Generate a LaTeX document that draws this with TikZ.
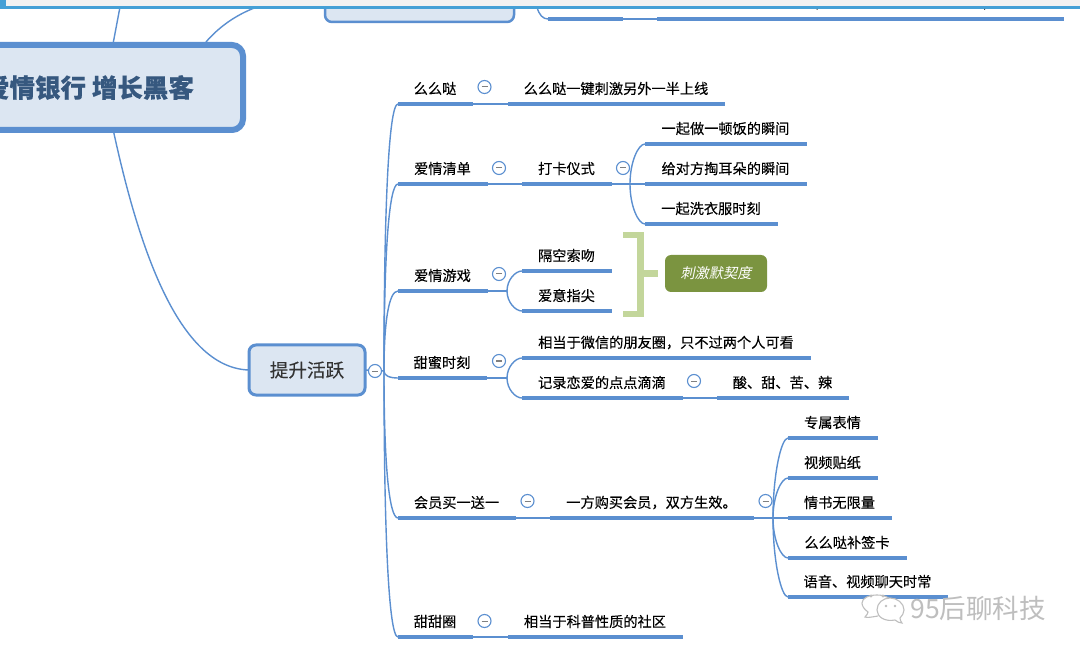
\documentclass[tikz,border=0pt]{standalone}
\usepackage{fontspec}
\setmainfont[BoldFeatures={FakeBold=0.35}]{Noto Sans CJK SC}
\newfontfamily\cjktopic[FakeBold=0.15]{Noto Sans CJK SC}
\newfontfamily\cjkslant[FakeSlant=0.2]{Noto Sans CJK SC}
\usetikzlibrary{calc}
\definecolor{linkc}{HTML}{5B8FD0}
\definecolor{boxfill}{HTML}{DCE6F2}
\definecolor{maintext}{HTML}{36587F}
\definecolor{stripc}{HTML}{45A0D6}
\definecolor{bracec}{HTML}{C3D69B}
\definecolor{notec}{HTML}{7B9440}
\definecolor{wm}{HTML}{BEBEBE}
\tikzset{
  topicbox/.style={inner sep=0pt,outer sep=0pt,minimum height=31pt,anchor=south west,text=black,font=\fontsize{14.2pt}{16pt}\cjktopic},
  barline/.style={draw=linkc,line width=4pt},
  linkline/.style={draw=linkc,line width=1.4pt},
  fold/.style={circle,draw=linkc,fill=white,line width=1.1pt,inner sep=0pt,minimum size=13pt,outer sep=0pt,
    path picture={\draw[draw=gray,line width=1pt] ([xshift=-3pt]path picture bounding box.center) -- ([xshift=3pt]path picture bounding box.center);}},
  mainbox/.style={draw=linkc,fill=boxfill,line width=6pt,rounded corners=11pt,inner sep=0pt,outer sep=0pt},
}
\newcommand\topic[5]{%
  \node[topicbox,minimum width={(#3-#2)*1pt}] (#1) at (#2,#4) {\hspace*{-1pt}#5};
  \draw[barline] (#1.south west) -- (#1.south east);}
\newcommand\curvelink[2]{%
  \draw[linkline] (#1) .. controls ($(#1)!0.55!(#1 |- #2)$) and ($(#1 |- #2)!0.55!(#2)$) .. (#2);}
\newcommand\trunklink[2]{%
  \draw[linkline] (#1) .. controls ($(#1)!0.6!(#1 |- #2)$) and ($(#1 |- #2)!0.33!(#2)$) .. (#2);}
\begin{document}
\begin{tikzpicture}[x=1pt,y=-1pt]
\useasboundingbox (0,0) rectangle (1080,655);
\clip (0,0) rectangle (1080,655);
\fill[white] (0,0) rectangle (1080,655);

% centre and top fragments
\coordinate (m1) at (120,7);
\coordinate (m2) at (113,44);
\coordinate (m3) at (257,7);
\coordinate (m4) at (206,42);
\coordinate (m5) at (113,129);
\draw[linkline] (m1) -- (m2);
\draw[linkline] (m3) .. controls (235,15) and (218,28) .. (m4);
\node[mainbox,minimum width=305pt,minimum height=85pt,text=maintext,font=\fontsize{25.5pt}{28pt}\selectfont\bfseries] (main) at (90.5,87.5) {\raisebox{-1pt}{爱情银行 增长黑客\hspace*{3pt}}};
\node[mainbox,line width=2.5pt,rounded corners=7pt,minimum width=189pt,minimum height=50pt] (upper) at (419.5,-3) {};

% top-right fragment
\topic{ta}{548}{623}{19}{}
\topic{tb}{657}{1064}{19}{}
\coordinate (tr) at (537,7);
\draw[linkline] (tr) .. controls (539,15) and (543,19) .. (ta.south west);
\draw[linkline] (ta.south east) -- (tb.south west);

% activity node
\node[mainbox,line width=3pt,rounded corners=7pt,minimum width=116pt,minimum height=50pt,text=black!80,font=\fontsize{18.6pt}{22pt}\cjktopic] (act) at (307,370) {\raisebox{-2.5pt}{提升活跃}};
\draw[linkline] (m5) .. controls (138,245) and (178,368) .. (act.west);
\coordinate (trunk) at (384,371);
\draw[linkline] (act.east) -- (trunk);

% level 1
\topic{a}{398}{473}{104}{么么哒}
\topic{b}{398}{488}{184}{爱情清单}
\topic{c}{398}{488}{291}{爱情游戏}
\topic{d}{398}{487}{378}{甜蜜时刻}
\topic{e}{398}{516}{518}{会员买一送一}
\topic{f}{398}{473}{637}{甜甜圈}
\foreach \n in {a,b,c,d,e,f} {\trunklink{trunk}{\n.south west}}
\node[fold] (fact) at (375,371) {};

% level 2
\topic{a1}{508}{725}{104}{么么哒一键刺激另外一半上线}
\draw[linkline] (a.south east) -- (a1.south west);
\node[fold] at (484.5,87) {};

\topic{b1}{522}{612}{184}{打卡仪式}
\draw[linkline] (b.south east) -- (b1.south west);
\node[fold] at (499,168) {};
\topic{b11}{645}{807}{144}{一起做一顿饭的瞬间}
\topic{b12}{645}{807}{184}{给对方掏耳朵的瞬间}
\topic{b13}{645}{778}{224}{一起洗衣服时刻}
\coordinate (bj) at (630,184);
\draw[linkline] (b1.south east) -- (b12.south west);
\curvelink{bj}{b11.south west}
\curvelink{bj}{b13.south west}
\node[fold] at (623,168) {};

\coordinate (cj) at (507,291);
\draw[linkline] (c.south east) -- (cj);
\topic{c1}{522}{612}{271}{隔空索吻}
\topic{c2}{522}{612}{311}{爱意指尖}
\curvelink{cj}{c1.south west}
\curvelink{cj}{c2.south west}
\node[fold] at (499,274) {};

% summary bracket
\node[fill=notec,rounded corners=6pt,minimum width=102pt,minimum height=37pt,inner sep=0pt,outer sep=0pt,text=white,font=\fontsize{14.2pt}{16pt}\cjkslant] (note) at (716,273.5) {\raisebox{-3pt}{刺激默契度}};
\coordinate (bra) at (623,235);
\coordinate (brb) at (623,314);
\coordinate (brc) at (640.5,235);
\coordinate (brd) at (640.5,314);
\coordinate (bre) at (640.5,273.5);
\coordinate (brf) at (658,273.5);
\draw[draw=bracec,line width=6.5pt] (bra) -- (brc) -- (brd) -- (brb);
\draw[draw=bracec,line width=7pt] (bre) -- (brf);

\coordinate (dj) at (507,378);
\draw[linkline] (d.south east) -- (dj);
\topic{d1}{522}{811}{358}{相当于微信的朋友圈，只不过两个人可看}
\topic{d2}{522}{683}{398}{记录恋爱的点点滴滴}
\curvelink{dj}{d1.south west}
\curvelink{dj}{d2.south west}
\node[fold] at (499,361) {};
\topic{d21}{717}{849}{398}{酸、甜、苦、辣}
\draw[linkline] (d2.south east) -- (d21.south west);
\node[fold] at (694,381) {};

\topic{e1}{550}{754}{518}{一方购买会员，双方生效。}
\draw[linkline] (e.south east) -- (e1.south west);
\node[fold] at (527.5,501) {};
\topic{e11}{788}{878}{438}{专属表情}
\topic{e12}{788}{878}{478}{视频贴纸}
\topic{e13}{788}{892}{518}{情书无限量}
\topic{e14}{788}{907}{558}{么么哒补签卡}
\topic{e15}{788}{948}{597}{语音、视频聊天时常}
\coordinate (ej) at (773,518);
\draw[linkline] (e1.south east) -- (e13.south west);
\curvelink{ej}{e11.south west}
\curvelink{ej}{e12.south west}
\curvelink{ej}{e14.south west}
\curvelink{ej}{e15.south west}
\node[fold] at (765.5,501) {};

\topic{f1}{508}{683}{637}{相当于科普性质的社区}
\draw[linkline] (f.south east) -- (f1.south west);
\node[fold] at (484.5,621) {};

% window strip
\fill[gray!10] (0,0) rectangle (1080,6);
\fill[stripc] (0,6) rectangle (1080,9.5);
\fill[stripc] (0,0) rectangle (5.5,9.5);
\fill[black!70] (816.5,9) rectangle (817.5,10) (984,9) rectangle (985,10);

% watermark
\draw[draw=wm,fill=white,line width=1.1pt] (878,616) .. controls (872,617) and (867,618) .. (865,617) .. controls (867,615) and (868,613) .. (868,612) .. controls (864,609) and (862,606) .. (862,603) .. controls (862,598) and (869,595) .. (877,595) .. controls (886,595) and (892,599) .. (893,604);
\draw[draw=wm,fill=white,line width=1.1pt] (890,598) .. controls (897,598) and (904,603) .. (904,610) .. controls (904,613) and (902,616) .. (900,618) .. controls (900,620) and (901,622) .. (902,623) .. controls (900,623) and (897,622) .. (895,620) .. controls (885,622) and (877,617) .. (877,610) .. controls (877,603) and (883,598) .. (890,598) -- cycle;
\fill[wm] (871,596) circle (1.7pt) (883,596) circle (1.7pt) (886,606) circle (1.3pt) (895,606) circle (1.3pt);
\node[inner sep=0pt,text=wm,font=\fontsize{26.5pt}{28pt}\selectfont] (wmark) at (978,608) {95后聊科技};
\end{tikzpicture}
\end{document}
